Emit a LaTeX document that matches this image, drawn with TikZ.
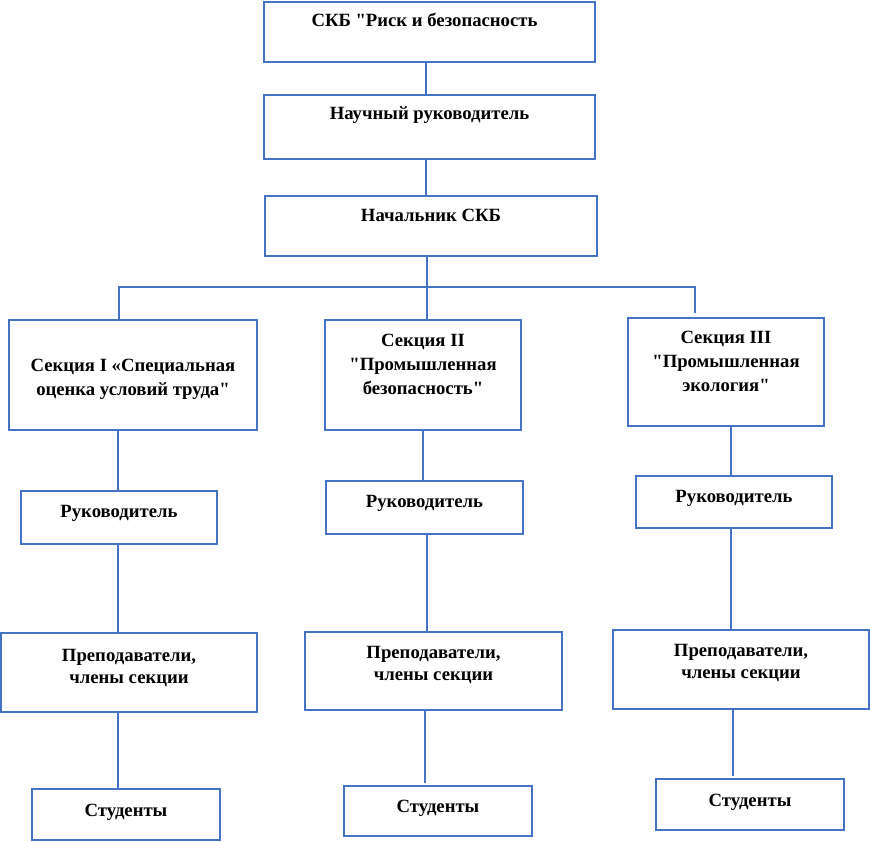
\documentclass[tikz,border=0pt]{standalone}
\usepackage{fontspec}
\newfontfamily\lserif{Liberation Serif}
\definecolor{lineblue}{HTML}{4472C4}
\begin{document}
\begin{tikzpicture}[x=1pt,y=-1pt,
  box/.style={draw=lineblue,line width=1.8pt,inner sep=0pt,rectangle},
  conn/.style={draw=lineblue,line width=1.8pt},
  txt/.style={anchor=base,inner sep=0pt,font=\lserif\fontsize{18.7}{22}\selectfont\bfseries}]
\useasboundingbox (0,0) rectangle (870,842);
% boxes: corners
\newcommand\bx[5]{\node[box,minimum width={#4-#2},minimum height={#5-#3}] (#1) at ({(#2+#4)/2},{(#3+#5)/2}) {};}
\bx{skb}{264}{2}{595}{62}
\bx{nauch}{264}{95}{595}{159}
\bx{nach}{265}{196}{597}{256}
\bx{s1}{9}{320}{257}{430}
\bx{s2}{325}{320}{521}{430}
\bx{s3}{628}{318}{824}{426}
\bx{r1}{21}{491}{217}{544}
\bx{r2}{326}{481}{523}{534}
\bx{r3}{636}{476}{832}{528}
\bx{p1}{1}{633}{257}{712}
\bx{p2}{305}{632}{562}{710}
\bx{p3}{613}{630}{869}{709}
\bx{st1}{32}{789}{220}{840}
\bx{st2}{344}{786}{532}{836}
\bx{st3}{656}{779}{844}{830}
% texts
\node[txt] (tskb) at (424.5,27) {СКБ "Риск и безопасность};
\node[txt] (tnauch) at (429.5,120) {Научный руководитель};
\node[txt] (tnach) at (431,222) {Начальник СКБ};
\node[txt] (ts1a) at (133,371) {Секция I «Специальная};
\node[txt] (ts1b) at (133,395) {оценка условий труда"};
\node[txt] (ts2a) at (423,346) {Секция II};
\node[txt] (ts2b) at (423,370) {"Промышленная};
\node[txt] (ts2c) at (423,394) {безопасность"};
\node[txt] (ts3a) at (726,343) {Секция III};
\node[txt] (ts3b) at (726,367) {"Промышленная};
\node[txt] (ts3c) at (726,391) {экология"};
\node[txt] (tr1) at (119,517) {Руководитель};
\node[txt] (tr2) at (424.5,507) {Руководитель};
\node[txt] (tr3) at (734,502) {Руководитель};
\node[txt] (tp1a) at (129,661) {Преподаватели,};
\node[txt] (tp1b) at (129,683) {члены секции};
\node[txt] (tp2a) at (433.5,658) {Преподаватели,};
\node[txt] (tp2b) at (433.5,680) {члены секции};
\node[txt] (tp3a) at (741,656) {Преподаватели,};
\node[txt] (tp3b) at (741,678) {члены секции};
\node[txt] (tst1) at (126,816) {Студенты};
\node[txt] (tst2) at (438,812) {Студенты};
\node[txt] (tst3) at (750,806) {Студенты};
% connectors
\draw[conn] (skb.south -| 426,0) -- (nauch.north -| 426,0);
\draw[conn] (nauch.south -| 426,0) -- (nach.north -| 426,0);
\coordinate (hl) at (119,287);
\coordinate (hr) at (695,287);
\draw[conn] (nach.south -| 427,0) -- (427,287);
\draw[conn] (s1.north -| hl) -- (hl) -- (hr) -- (695,313);
\draw[conn] (427,287) -- (s2.north -| 427,0);
\draw[conn] (s1.south -| 118,0) -- (r1.north -| 118,0);
\draw[conn] (s2.south -| 423,0) -- (r2.north -| 423,0);
\draw[conn] (s3.south -| 731,0) -- (r3.north -| 731,0);
\draw[conn] (r1.south -| 118,0) -- (p1.north -| 118,0);
\draw[conn] (r2.south -| 427,0) -- (p2.north -| 427,0);
\draw[conn] (r3.south -| 731,0) -- (p3.north -| 731,0);
\draw[conn] (p1.south -| 118,0) -- (st1.north -| 118,0);
\draw[conn] (p2.south -| 425,0) -- (425,783);
\draw[conn] (p3.south -| 733,0) -- (733,776);
\end{tikzpicture}
\end{document}
